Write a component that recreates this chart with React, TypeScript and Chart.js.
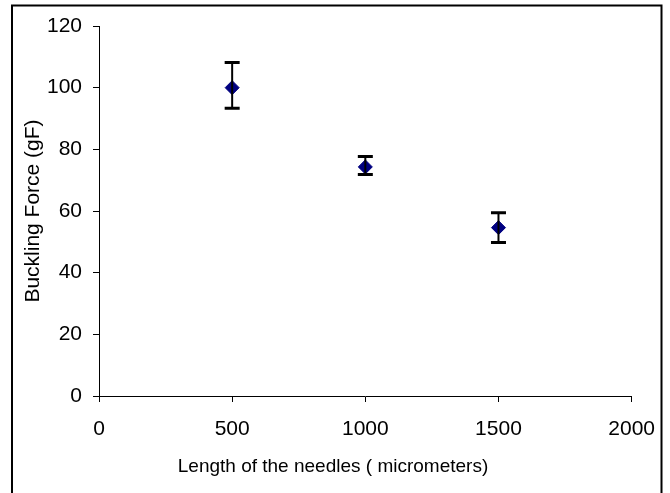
import React, { useEffect, useRef } from "react";
import { Chart, registerables } from "chart.js";

Chart.register(...registerables);

const xValues = [500, 1000, 1500];
const yValues = [100, 74.3, 54.6];
const yUpper = [108.2, 77.7, 59.4];
const yLower = [93.3, 71.8, 49.8];

const xTicks = [0, 500, 1000, 1500, 2000];
const yTicks = [0, 20, 40, 60, 80, 100, 120];

const xTitle = "Length of the needles ( micrometers)";
const yTitle = "Buckling Force (gF)";

const FONT = "'Liberation Sans', Arial, sans-serif";

export default function App() {
  const ref = useRef<HTMLCanvasElement | null>(null);

  useEffect(() => {
    if (!ref.current) return;

    const framePlugin = {
      id: "frame",
      beforeDraw(chart: any) {
        const ctx = chart.ctx;
        ctx.save();
        ctx.fillStyle = "#ffffff";
        ctx.fillRect(0, 0, chart.width, chart.height);
        ctx.restore();
      },
      afterDraw(chart: any) {
        const ctx = chart.ctx;
        ctx.save();
        ctx.strokeStyle = "#000000";
        ctx.lineWidth = 2;
        ctx.strokeRect(12, 5.5, 649.5, 600);
        const area = chart.chartArea;
        ctx.fillStyle = "#000000";
        ctx.textAlign = "center";
        ctx.textBaseline = "middle";
        ctx.font = `19px ${FONT}`;
        ctx.fillText(xTitle, 333, 467);
        ctx.font = `21px ${FONT}`;
        ctx.translate(33, (area.top + area.bottom) / 2);
        ctx.rotate(-Math.PI / 2);
        ctx.fillText(yTitle, 0, 0);
        ctx.restore();
      },
    };

    const errorBarPlugin = {
      id: "errorBars",
      afterDatasetsDraw(chart: any) {
        const ctx = chart.ctx;
        const xs = chart.scales.x;
        const ys = chart.scales.y;
        ctx.save();
        ctx.strokeStyle = "#000000";
        for (let i = 0; i < xValues.length; i++) {
          const px = xs.getPixelForValue(xValues[i]);
          const pTop = ys.getPixelForValue(yUpper[i]);
          const pBot = ys.getPixelForValue(yLower[i]);
          ctx.lineWidth = 2;
          ctx.beginPath();
          ctx.moveTo(px, pTop);
          ctx.lineTo(px, pBot);
          ctx.stroke();
          ctx.lineWidth = 3;
          ctx.beginPath();
          ctx.moveTo(px - 7.5, pTop);
          ctx.lineTo(px + 7.5, pTop);
          ctx.moveTo(px - 7.5, pBot);
          ctx.lineTo(px + 7.5, pBot);
          ctx.stroke();
        }
        ctx.restore();
      },
    };

    const chart = new Chart(ref.current, {
      type: "scatter",
      data: {
        datasets: [
          {
            data: xValues.map((x, i) => ({ x, y: yValues[i] })),
            pointStyle: "rectRot",
            pointRadius: 7,
            pointBackgroundColor: "#000080",
            pointBorderColor: "#000080",
            pointBorderWidth: 1,
            showLine: false,
          },
        ],
      },
      options: {
        responsive: false,
        animation: false,
        layout: { padding: { top: 26, right: 36, left: 0, bottom: 0 } },
        plugins: {
          legend: { display: false },
          tooltip: { enabled: false },
        },
        scales: {
          x: {
            type: "linear",
            min: 0,
            max: 2000,
            afterFit(scale: any) {
              scale.height = 97;
            },
            afterBuildTicks(scale: any) {
              scale.ticks = xTicks.map((v) => ({ value: v }));
            },
            ticks: {
              color: "#000000",
              font: { family: FONT, size: 21 },
              padding: 15,
              maxRotation: 0,
              callback: (v: any) => String(v),
            },
            grid: {
              drawOnChartArea: false,
              drawTicks: true,
              tickLength: 6,
              color: "#000000",
            },
            border: { display: true, color: "#000000", width: 1 },
          },
          y: {
            type: "linear",
            min: 0,
            max: 120,
            afterFit(scale: any) {
              scale.width = 99;
            },
            afterBuildTicks(scale: any) {
              scale.ticks = yTicks.map((v) => ({ value: v }));
            },
            ticks: {
              color: "#000000",
              font: { family: FONT, size: 21 },
              padding: 11,
              callback: (v: any) => String(v),
            },
            grid: {
              drawOnChartArea: false,
              drawTicks: true,
              tickLength: 6,
              color: "#000000",
            },
            border: { display: true, color: "#000000", width: 1 },
          },
        },
      },
      plugins: [framePlugin, errorBarPlugin],
    });

    return () => chart.destroy();
  }, []);

  return (
    <div
      style={{
        position: "fixed",
        left: 0,
        top: 0,
        width: 670,
        height: 493,
        background: "#ffffff",
      }}
    >
      <canvas ref={ref} width={670} height={493} />
    </div>
  );
}
